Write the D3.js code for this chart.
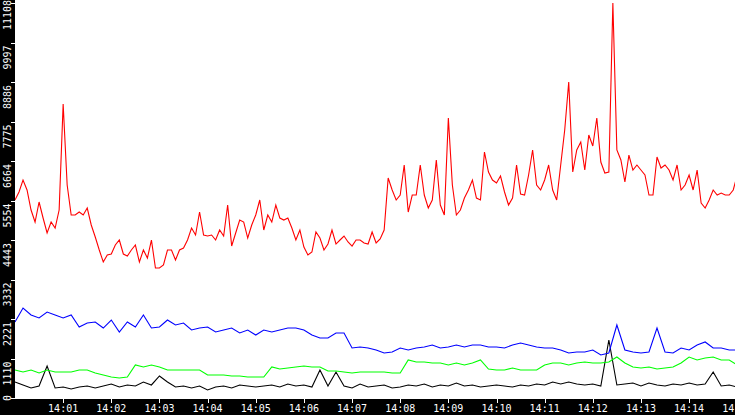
<!DOCTYPE html>
<html>
<head>
<meta charset="utf-8">
<script src="https://cdn.jsdelivr.net/npm/d3@7"></script>
<style>
  body { margin: 0; background: #fff; }
  svg { display: block; }
  .axis text { fill: #fff; font-family: "DejaVu Sans Mono", monospace; font-size: 10px; }
  .axis line { stroke: #fff; }
  .axis path { display: none; }
</style>
</head>
<body>
<svg id="chart" width="735" height="415"></svg>
<script>
// red series, one sample every 5 seconds from 14:00:00
const redValues = [5568,5793,6130,5849,5287,4949,5512,5062,4640,4949,4780,5287,8267,5990,5146,5146,5230,5146,5343,4865,
  4527,4162,3824,4021,4049,4302,4443,4049,3993,4162,4302,3824,4162,3937,4443,3656,3656,3740,4162,4162,
  3880,4162,4218,4443,4780,4583,5230,4583,4555,4583,4443,4724,4555,5427,4274,4640,5005,4949,4499,4865,
  5146,5568,4724,5146,4949,5427,5062,5005,5062,4780,4443,4724,4246,4021,4106,4668,4499,4162,4330,4724,
  4330,4443,4555,4387,4274,4443,4443,4359,4330,4668,4359,4471,4724,6186,5849,5568,5708,6552,5230,5708,
  5708,6552,5708,5343,5568,6693,5427,5146,7874,5990,5146,5287,5624,5849,6130,5624,5568,6918,6355,6130,
  6046,6243,5793,5427,5624,6552,5736,5708,6271,6974,5990,5849,6130,6552,5849,5568,6552,7536,8886,6355,
  6974,7199,6411,7396,7086,7874,6636,6327,6355,11108,6974,6693,6074,6833,6411,6552,6411,6271,5708,5708,
  6777,6468,6552,6411,6130,6552,5849,5990,6271,5849,6411,5483,5343,5568,5849,5708,5765,5708,5708,5849,6271];

// lower series, one sample every 10 seconds
const blueValues = [2137,2531,2334,2250,2418,2334,2250,2334,1997,2109,2137,1968,2193,1856,2137,1997,2334,1968,1997,2193,
  2053,2109,1912,1968,1997,1856,1912,1968,1828,1912,1772,1912,1856,1912,1968,1968,1912,1772,1687,1687,
  1828,1828,1406,1434,1406,1350,1265,1294,1406,1350,1406,1434,1490,1406,1434,1490,1434,1490,1490,1434,
  1434,1406,1490,1547,1490,1434,1406,1406,1350,1265,1294,1294,1350,1209,1265,2053,1350,1294,1265,1294,
  1968,1294,1265,1406,1350,1490,1575,1406,1406,1350,1350];
const greenValues = [787,731,787,703,787,731,731,731,787,787,703,647,591,562,591,928,872,928,872,787,
  787,787,787,787,647,647,647,619,619,591,591,591,872,815,844,872,900,872,872,759,
  759,731,703,731,731,731,731,703,703,1069,1012,1012,984,984,928,984,928,984,1069,815,
  787,787,844,787,787,787,928,984,984,928,984,1012,984,984,1012,1153,984,872,844,872,
  815,844,872,984,1153,1069,1125,1153,1069,1069,928];
const blackValues = [450,366,281,337,900,281,309,253,309,337,281,337,394,309,366,337,450,366,619,450,
  309,337,281,337,225,309,337,281,366,337,309,337,366,309,394,337,366,309,787,337,
  731,337,281,394,309,337,366,281,309,366,337,394,309,366,337,422,337,366,309,337,
  366,337,309,366,337,394,366,450,394,450,394,366,394,337,1631,366,394,422,337,422,
  366,337,394,366,422,366,394,731,337,366,309];

const yTickValues = [0,1110,2221,3332,4443,5554,6664,7775,8886,9997,11108];
const xTickLabels = ["14:01","14:02","14:03","14:04","14:05","14:06","14:07","14:08","14:09","14:10","14:11","14:12","14:13","14:14","14:15"];

const W = 735, H = 415;
const left = 15, bottom = 399;
const svg = d3.select("#chart");

const start = new Date(2020, 0, 1, 14, 0, 0);
const x = d3.scaleTime()
  .domain([start, d3.timeMinute.offset(start, 15)])
  .range([left, left + 15 * 48.15]);
const y = d3.scaleLinear().domain([0, 11108]).range([398, 3]);

const series = [
  { values: blackValues, step: 10, color: "#000" },
  { values: greenValues, step: 10, color: "#00ff00" },
  { values: blueValues, step: 10, color: "#0000ff" },
  { values: redValues, step: 5, color: "#ff0000" }
];

series.forEach(s => {
  const line = d3.line()
    .x((d, i) => x(d3.timeSecond.offset(start, i * s.step)))
    .y(d => y(d));
  svg.append("path")
    .datum(s.values)
    .attr("fill", "none")
    .attr("stroke", s.color)
    .attr("stroke-width", 1.1)
    .attr("d", line);
});

// black frame strips
svg.append("rect").attr("x", 0).attr("y", 0).attr("width", left).attr("height", H).attr("fill", "#000");
svg.append("rect").attr("x", 0).attr("y", bottom).attr("width", W).attr("height", H - bottom).attr("fill", "#000");

// y axis, rotated labels hanging below each tick
const yAxis = svg.append("g").attr("class", "axis");
yAxis.selectAll("line").data(yTickValues).join("line")
  .attr("x1", 11).attr("x2", 15)
  .attr("y1", d => Math.round(y(d)) + 0.5).attr("y2", d => Math.round(y(d)) + 0.5);
yAxis.selectAll("text").data(yTickValues).join("text")
  .attr("transform", d => `translate(11,${d === 0 ? y(d) + 3 : y(d) + 27}) rotate(-90)`)
  .attr("text-anchor", "start")
  .text(d => d);

// x axis
const xTicks = xTickLabels.map((l, i) => d3.timeMinute.offset(start, i + 1));
const xAxis = svg.append("g").attr("class", "axis");
xAxis.selectAll("line").data(xTicks).join("line")
  .attr("x1", d => Math.round(x(d)) + 0.5).attr("x2", d => Math.round(x(d)) + 0.5)
  .attr("y1", bottom).attr("y2", bottom + 4);
xAxis.selectAll("text").data(xTicks).join("text")
  .attr("x", d => x(d)).attr("y", 412)
  .attr("text-anchor", "middle")
  .text((d, i) => xTickLabels[i]);
</script>
</body>
</html>
